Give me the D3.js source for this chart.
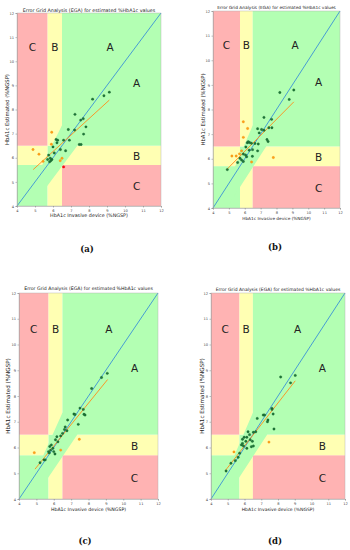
<!DOCTYPE html>
<html><head><meta charset="utf-8">
<script src="https://cdn.jsdelivr.net/npm/d3@7"></script>
<style>body{margin:0;background:#fff}svg{display:block}</style>
</head><body>
<svg id="fig" width="350" height="550"></svg>
<script>
// ---------- data ----------
const axisDomain = [4, 12];
const tickValues = [4, 5, 6, 7, 8, 9, 10, 11, 12];
const thresholds = [5.7, 6.5];          // normal / prediabetes / diabetes cut-offs (%NGSP)
// zone A diagonal band polygon (ref, est)
const bandRef = [4, 4.6, 6.5, 7.35, 7.35, 4.85];
const bandEst = [4, 4.5, 7.35, 7.35, 6.5, 4];
const titleText = "Error Grid Analysis (EGA) for estimated %HbA1c values";
const xLabelText = "HbA1c Invasive device (%NGSP)";
const yLabelText = "HbA1c Estimated (%NGSP)";
const panelNames = ["(a)", "(b)", "(c)", "(d)"];
const zoneLetters = ["C", "B", "A", "A", "B", "C"];
const zoneLetterX = [4.85, 6.1, 9.17, 10.65, 10.65, 10.65];
const zoneLetterY = [10.6, 10.6, 10.6, 9.1, 6.07, 4.82];

// panel (a)
const aRef  = [9.13,8.83,8.2,7.22,7.54,7.68,7.83,6.85,7.2,7.7,6.26,6.22,6.17,6.59,6.91,6.41,6.7,7.46,7.56,5.76,5.85,5.7,5.94,6.07,5.81,5.88,6.0, 5.93,5.91,4.89,5.22,5.45,6.4,6.5, 6.59];
const aEst  = [8.72,8.57,8.43,7.8,7.56,7.62,7.28,7.17,7.15,6.98,6.73,6.62,6.76,6.73,6.73,6.34,6.29,6.55,6.55,6.11,5.98,5.93,5.93,6.2,5.83,5.88,6.45, 7.06,6.56,6.34,6.15,5.85,5.88,5.98, 5.62];
const aZone = ["A","A","A","A","A","A","A","A","A","A","A","A","A","A","A","A","A","A","A","A","A","A","A","A","A","A","A","B","B","B","B","B","B","B","C"];
const aFitX = [4.9, 9.13];
const aFitY = [5.51, 8.39];

// panel (b)
const bRef  = [9.09,8.21,8.8,7.21,7.69,6.81,7.21,7.52,7.71,7.06,6.91,7.4,7.47,6.16,6.3,6.42,6.64,6.85,6.07,6.28,6.49,5.91,6.05,6.12,5.8,5.91,5.55,5.7,4.9,6.81,6.48,6.22, 5.91,6.18,5.91,5.8,5.67,5.46,5.19,6.43,7.8];
const bEst  = [8.79,8.69,8.41,7.68,7.6,7.22,7.16,7.26,7.26,7.19,7.05,6.78,6.7,6.65,6.66,6.63,6.62,6.6,6.48,6.35,6.37,6.19,6.15,6.08,5.95,5.89,5.85,6.02,5.56,6.32,6.1,6.69, 7.5,7.23,6.87,6.32,6.2,6.11,6.11,5.87,6.05];
const bZone = ["A","A","A","A","A","A","A","A","A","A","A","A","A","A","A","A","A","A","A","A","A","A","A","A","A","A","A","A","A","A","A","A","B","B","B","B","B","B","B","B","B"];
const bFitX = [4.86, 9.09];
const bFitY = [5.56, 8.31];

// panel (c)
const cRef  = [9.08,8.75,8.18,7.51,7.7,7.16,7.22,7.74,7.8,6.8,7.41,6.66,6.62,6.76,6.51,6.18,6.4,6.24,6.1,5.86,5.77,5.95,5.82,5.7,6.0,6.07,5.74,5.21,5.44,5.51, 7.47,4.88,6.4];
const cEst  = [8.88,8.72,8.29,7.53,7.48,7.3,7.28,7.29,7.26,7.07,6.9,6.8,6.7,6.65,6.55,6.42,6.45,6.22,6.3,6.1,6.04,5.97,5.9,5.84,5.84,5.75,5.79,5.41,5.52,5.52, 6.32,5.8,5.9];
const cZone = ["A","A","A","A","A","A","A","A","A","A","A","A","A","A","A","A","A","A","A","A","A","A","A","A","A","A","A","A","A","A","B","B","B"];
const cFitX = [4.92, 9.1];
const cFitY = [5.16, 8.64];

// panel (d)
const dRef  = [9.03,8.75,8.16,7.64,7.64,7.71,7.12,7.2,7.4,6.76,7.37,7.76,6.21,6.53,6.67,5.98,6.14,6.34,6.47,5.88,6.08,5.88,5.82,5.94,6.14,6.41,6.53,5.71,5.62,5.19,5.45,4.9,6.3, 7.46,5.37];
const dEst  = [8.8,8.51,8.74,7.52,7.48,7.3,7.26,7.26,7.07,7.13,7.0,6.72,6.61,6.59,6.61,6.4,6.4,6.3,6.24,6.32,6.24,6.16,6.1,6.06,5.97,6.03,6.06,5.78,5.62,5.39,5.49,5.09,6.5, 6.21,5.83];
const dZone = ["A","A","A","A","A","A","A","A","A","A","A","A","A","A","A","A","A","A","A","A","A","A","A","A","A","A","A","A","A","A","A","A","A","B","B"];
const dFitX = [4.85, 9.03];
const dFitY = [5.1, 8.59];

// ---------- layout / style ----------
const layouts = [
  {l:17,  r:161, t:13,  b:206, titleY:11.5, titleW:133, ylabX:6.5,  xlabY:217,   capX:87,  capY:252},
  {l:213, r:340, t:11,  b:208, titleY:8.5,  titleW:119, ylabX:203, xlabY:219.5, capX:275, capY:250},
  {l:19,  r:158, t:293, b:499, titleY:290.2,titleW:129, ylabX:7.5,  xlabY:511,   capX:85,  capY:544},
  {l:211, r:345, t:293, b:499, titleY:291,  titleW:125, ylabX:201.5,xlabY:511,   capX:275, capY:544}
];
const colZone = {A:"#b3ffb3", B:"#ffffb3", C:"#ffb3b3"};
const dotFill = {A:"#1f7a3a", B:"#ff9f1a", C:"#ff1010"};
const dotStroke = {A:"#0d4d22", B:"#e68a00", C:"#cc0000"};

const panels = [
  {ref:aRef, est:aEst, zone:aZone, fx:aFitX, fy:aFitY},
  {ref:bRef, est:bEst, zone:bZone, fx:bFitX, fy:bFitY},
  {ref:cRef, est:cEst, zone:cZone, fx:cFitX, fy:cFitY},
  {ref:dRef, est:dEst, zone:dZone, fx:dFitX, fy:dFitY}
];

const svg = d3.select("#fig");
const FONT = "DejaVu Sans, sans-serif";

function fitWidth(sel, target) {
  const w = sel.node().getComputedTextLength();
  const fs = parseFloat(sel.attr("font-size"));
  if (w > 0) sel.attr("font-size", fs * target / w);
}

panels.forEach((p, i) => {
  const L = layouts[i];
  const x = d3.scaleLinear().domain(axisDomain).range([L.l, L.r]);
  const y = d3.scaleLinear().domain(axisDomain).range([L.b, L.t]);
  const g = svg.append("g");
  const clipId = "clip" + i;
  g.append("clipPath").attr("id", clipId).append("rect")
    .attr("x", L.l).attr("y", L.t).attr("width", L.r - L.l).attr("height", L.b - L.t);

  // background zones (3x3 grid)
  const edges = [axisDomain[0], thresholds[0], thresholds[1], axisDomain[1]];
  const cellZone = [
    ["A","B","C"],
    ["B","A","B"],
    ["C","B","A"]
  ];
  const bg = g.append("g");
  for (let r = 0; r < 3; r++) for (let c = 0; c < 3; c++) {
    bg.append("rect")
      .attr("x", x(edges[c])).attr("y", y(edges[r+1]))
      .attr("width", x(edges[c+1]) - x(edges[c]))
      .attr("height", y(edges[r]) - y(edges[r+1]))
      .attr("fill", colZone[cellZone[r][c]]);
  }
  // zone A diagonal band
  const band = bandRef.map((v, k) => [v, bandEst[k]]);
  bg.append("path").attr("clip-path", `url(#${clipId})`)
    .attr("d", d3.line().x(d => x(d[0])).y(d => y(d[1]))(band) + "Z")
    .attr("fill", colZone.A);

  // zone letters
  zoneLetters.forEach((t, k) => {
    g.append("text").attr("x", x(zoneLetterX[k])).attr("y", y(zoneLetterY[k]))
      .attr("text-anchor", "middle").attr("dominant-baseline", "central")
      .attr("font-family", FONT).attr("font-size", 10.5).attr("fill", "#222").text(t);
  });

  // identity line
  g.append("line").attr("x1", x(axisDomain[0])).attr("y1", y(axisDomain[0]))
    .attr("x2", x(axisDomain[1])).attr("y2", y(axisDomain[1]))
    .attr("stroke", "#3b92d6").attr("stroke-width", 0.9);
  // regression line
  g.append("line").attr("x1", x(p.fx[0])).attr("y1", y(p.fy[0]))
    .attr("x2", x(p.fx[1])).attr("y2", y(p.fy[1]))
    .attr("stroke", "#ff8c1a").attr("stroke-width", 0.9);

  // points
  g.append("g").selectAll("circle").data(p.ref.map((v, k) => ({r: v, e: p.est[k], z: p.zone[k]})))
    .join("circle")
    .attr("cx", d => x(d.r)).attr("cy", d => y(d.e)).attr("r", 1.2)
    .attr("fill", d => dotFill[d.z]).attr("stroke", d => dotStroke[d.z]).attr("stroke-width", 0.3);

  // axes
  const ax = g.append("g").attr("transform", `translate(0,${L.b})`)
    .call(d3.axisBottom(x).tickValues(tickValues).tickSize(1.5).tickPadding(1.5).tickFormat(d3.format("d")));
  const ay = g.append("g").attr("transform", `translate(${L.l},0)`)
    .call(d3.axisLeft(y).tickValues(tickValues).tickSize(1.5).tickPadding(1.5).tickFormat(d3.format("d")));
  [ax, ay].forEach(a => {
    a.select(".domain").attr("stroke", "#999").attr("stroke-width", 0.5);
    a.selectAll(".tick line").attr("stroke", "#555").attr("stroke-width", 0.4);
    a.selectAll(".tick text").attr("font-size", 3.6).attr("font-family", FONT).attr("fill", "#444");
  });
  g.append("rect").attr("x", L.l).attr("y", L.t).attr("width", L.r - L.l).attr("height", L.b - L.t)
    .attr("fill", "none").attr("stroke", "#aaa").attr("stroke-width", 0.4);

  // title
  const tt = g.append("text").attr("x", (L.l + L.r) / 2).attr("y", L.titleY)
    .attr("text-anchor", "middle").attr("font-family", FONT).attr("font-size", 5).attr("fill", "#222").text(titleText);
  fitWidth(tt, L.titleW);
  // x label
  const xl = g.append("text").attr("x", (L.l + L.r) / 2).attr("y", L.xlabY)
    .attr("text-anchor", "middle").attr("font-family", FONT).attr("font-size", 5).attr("fill", "#222").text(xLabelText);
  fitWidth(xl, 78 * (L.r - L.l) / 144);
  // y label
  const yl = g.append("text").attr("transform", `translate(${L.ylabX},${(L.t + L.b) / 2}) rotate(-90)`)
    .attr("text-anchor", "middle").attr("dominant-baseline", "central")
    .attr("font-family", FONT).attr("font-size", 5).attr("fill", "#222").text(yLabelText);
  fitWidth(yl, 71 * (L.b - L.t) / 193);
  // caption
  g.append("text").attr("x", L.capX).attr("y", L.capY).attr("text-anchor", "middle")
    .attr("font-family", "DejaVu Serif, Liberation Serif, serif").attr("font-size", 8.5)
    .attr("font-weight", "bold").attr("fill", "#111").text(panelNames[i]);
});
</script>
</body></html>
